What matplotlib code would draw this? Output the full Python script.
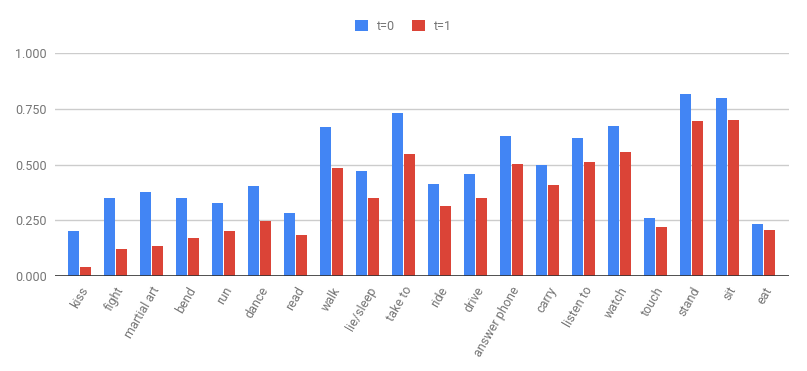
import numpy as np
import matplotlib
matplotlib.use("Agg")
import matplotlib.pyplot as plt
from matplotlib.ticker import FormatStrFormatter

# categorias e valores
acoes = ['kiss', 'fight', 'martial art', 'bend', 'run', 'dance', 'read', 'walk',
         'lie/sleep', 'take to', 'ride', 'drive', 'answer phone', 'carry',
         'listen to', 'watch', 'touch', 'stand', 'sit', 'eat']
t0 = [0.202, 0.350, 0.377, 0.350, 0.327, 0.404, 0.283, 0.668, 0.471, 0.731,
      0.413, 0.457, 0.628, 0.498, 0.619, 0.673, 0.260, 0.816, 0.798, 0.233]
t1 = [0.040, 0.121, 0.135, 0.170, 0.202, 0.247, 0.184, 0.484, 0.350, 0.547,
      0.314, 0.350, 0.502, 0.408, 0.511, 0.556, 0.220, 0.695, 0.700, 0.206]

AZUL = '#4285F4'
VERMELHO = '#DB4437'
CINZA = '#757575'

plt.rcParams['font.family'] = ['Roboto', 'DejaVu Sans']

fig = plt.figure(figsize=(8.07, 3.71), dpi=100)
ax = fig.add_axes([55 / 807, 1 - 276 / 371, (788.7 - 55) / 807, (276 - 53) / 371])

x = np.arange(len(acoes))
w = 0.31
ax.bar(x - 0.165, t0, width=w, color=AZUL, label='t=0', zorder=3)
ax.bar(x + 0.165, t1, width=w, color=VERMELHO, label='t=1', zorder=3)

ax.set_xlim(-0.68, len(acoes) - 1 + 0.70)
ax.set_ylim(0, 1.0)
ax.set_yticks([0, 0.25, 0.5, 0.75, 1.0])
ax.yaxis.set_major_formatter(FormatStrFormatter('%.3f'))
ax.grid(axis='y', color='#cccccc', linewidth=1, zorder=0)
ax.axhline(0, color='#333333', linewidth=1.2, zorder=4)

for s in ax.spines.values():
    s.set_visible(False)
ax.tick_params(axis='both', length=0, colors=CINZA, labelsize=9)
ax.tick_params(axis='y', pad=6)

ax.set_xticks(x)
ax.set_xticklabels(acoes, rotation=60, ha='right', va='top',
                   rotation_mode='anchor', color=CINZA)
ax.tick_params(axis='x', pad=6)

leg = fig.legend(loc='center', bbox_to_anchor=(0.5, 1 - 26 / 371), ncol=2,
                 frameon=False, fontsize=9, handlelength=1.0, handleheight=1.0,
                 columnspacing=1.4, handletextpad=0.7)
for t in leg.get_texts():
    t.set_color(CINZA)

fig.savefig('out.png', dpi=100)
